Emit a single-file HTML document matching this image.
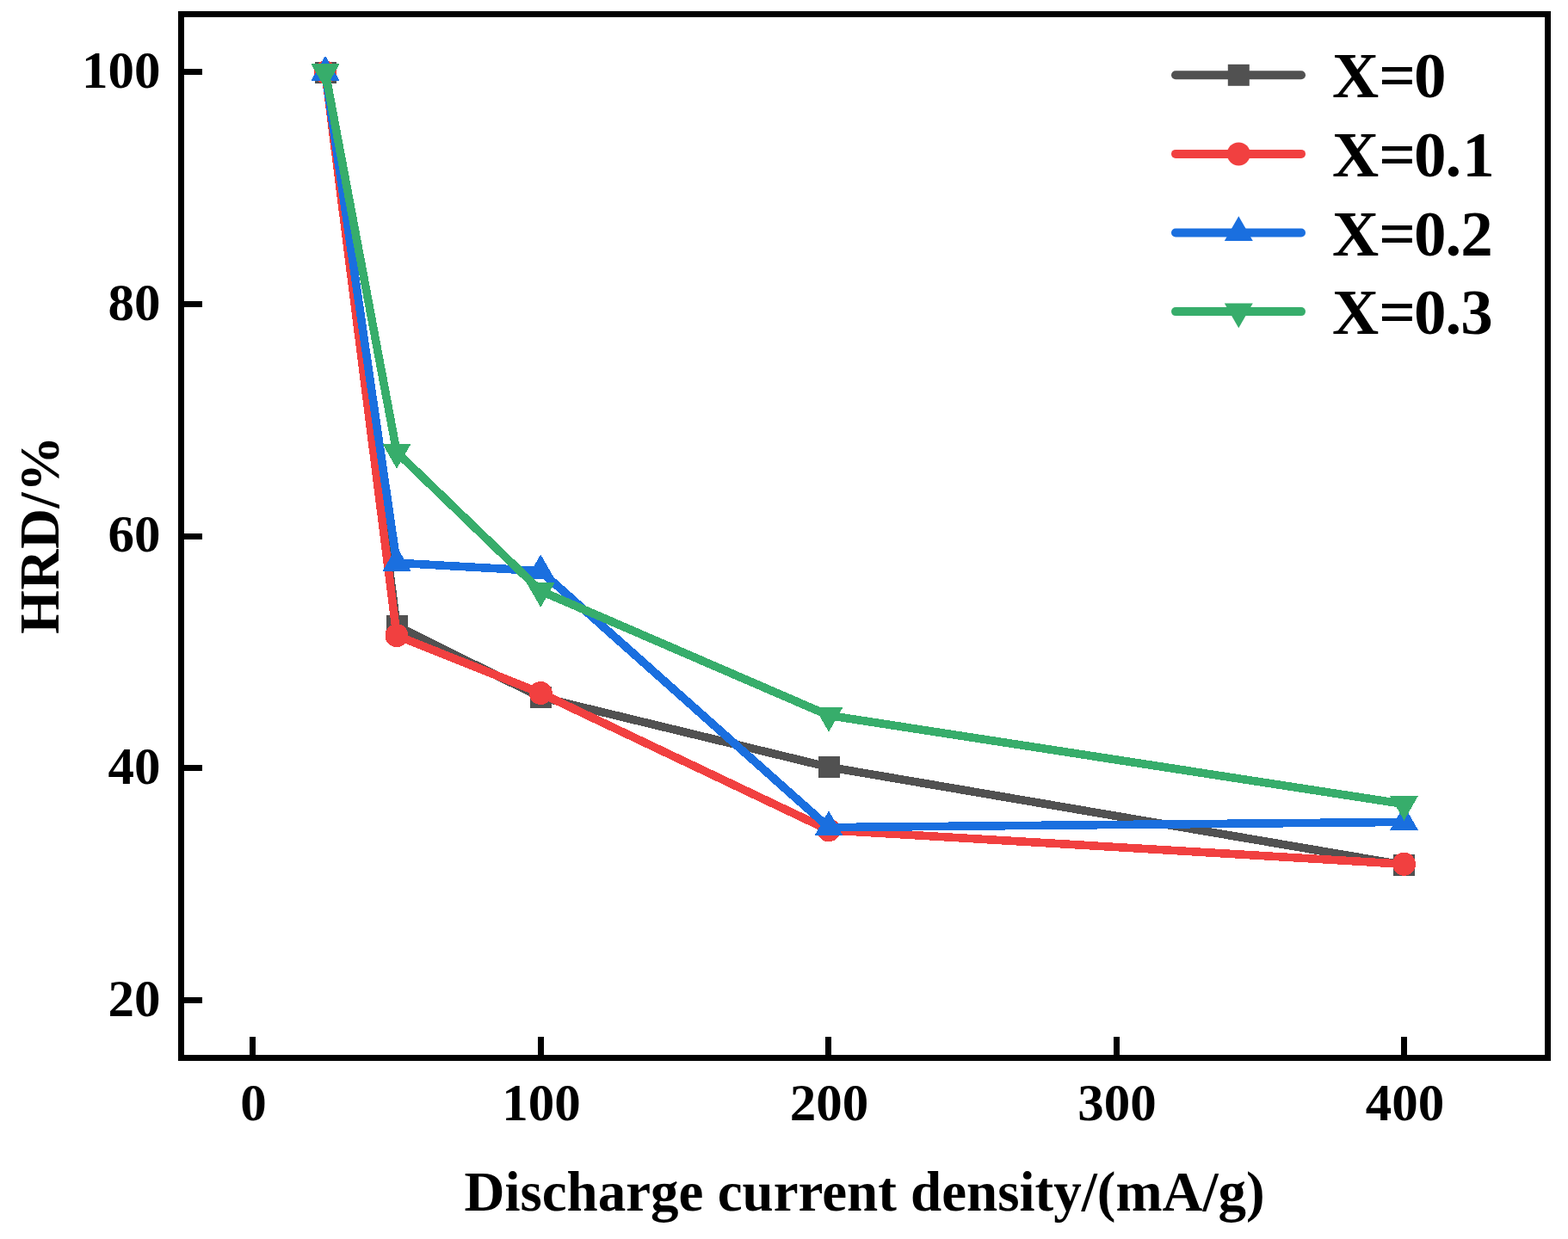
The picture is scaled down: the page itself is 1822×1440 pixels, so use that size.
<!DOCTYPE html>
<html><head><meta charset="utf-8"><title>HRD chart</title>
<style>
html,body{margin:0;padding:0;background:#fff;}
body{width:1822px;height:1440px;overflow:hidden;}
svg{display:block;}
.g{shape-rendering:crispEdges;}
text{font-family:"Liberation Serif","Times New Roman",serif;font-weight:bold;fill:#000;}
</style></head><body>
<svg width="1822" height="1440" viewBox="0 0 1822 1440">
<rect x="0" y="0" width="1822" height="1440" fill="#fff"/>
<g class="g">
<polyline points="378.00,84.50 461.00,727.60 628.20,810.30 963.00,891.50 1631.50,1005.40" fill="none" stroke="#515151" stroke-width="9.6" stroke-linejoin="miter" stroke-miterlimit="4"/>
<rect x="365.50" y="72.00" width="25" height="25" fill="#515151"/>
<rect x="448.50" y="715.10" width="25" height="25" fill="#515151"/>
<rect x="615.70" y="797.80" width="25" height="25" fill="#515151"/>
<rect x="950.50" y="879.00" width="25" height="25" fill="#515151"/>
<rect x="1619.00" y="992.90" width="25" height="25" fill="#515151"/>
<polyline points="378.00,84.00 461.00,738.70 628.20,805.50 963.00,964.80 1631.50,1004.30" fill="none" stroke="#F14040" stroke-width="9.6" stroke-linejoin="miter" stroke-miterlimit="4"/>
<circle cx="378.00" cy="84.00" r="13.5" fill="#F14040"/>
<circle cx="461.00" cy="738.70" r="13.5" fill="#F14040"/>
<circle cx="628.20" cy="805.50" r="13.5" fill="#F14040"/>
<circle cx="963.00" cy="964.80" r="13.5" fill="#F14040"/>
<circle cx="1631.50" cy="1004.30" r="13.5" fill="#F14040"/>
<polyline points="378.00,84.00 461.00,654.20 628.20,663.60 963.00,961.60 1631.50,955.40" fill="none" stroke="#1A6FDF" stroke-width="9.6" stroke-linejoin="miter" stroke-miterlimit="4"/>
<polygon points="378.00,64.80 394.50,93.60 361.50,93.60" fill="#1A6FDF"/>
<polygon points="461.00,635.00 477.50,663.80 444.50,663.80" fill="#1A6FDF"/>
<polygon points="628.20,644.40 644.70,673.20 611.70,673.20" fill="#1A6FDF"/>
<polygon points="963.00,942.40 979.50,971.20 946.50,971.20" fill="#1A6FDF"/>
<polygon points="1631.50,936.20 1648.00,965.00 1615.00,965.00" fill="#1A6FDF"/>
<polyline points="378.00,84.00 461.00,525.60 628.20,686.70 963.00,831.50 1631.50,934.50" fill="none" stroke="#37AD6B" stroke-width="9.6" stroke-linejoin="miter" stroke-miterlimit="4"/>
<polygon points="378.00,103.20 394.50,74.40 361.50,74.40" fill="#37AD6B"/>
<polygon points="461.00,544.80 477.50,516.00 444.50,516.00" fill="#37AD6B"/>
<polygon points="628.20,705.90 644.70,677.10 611.70,677.10" fill="#37AD6B"/>
<polygon points="963.00,850.70 979.50,821.90 946.50,821.90" fill="#37AD6B"/>
<polygon points="1631.50,953.70 1648.00,924.90 1615.00,924.90" fill="#37AD6B"/>
<rect x="210.5" y="16.5" width="1588" height="1213" fill="none" stroke="#000" stroke-width="7"/>
<rect x="213" y="1159.00" width="22" height="7" fill="#000"/>
<rect x="213" y="889.25" width="22" height="7" fill="#000"/>
<rect x="213" y="619.50" width="22" height="7" fill="#000"/>
<rect x="213" y="349.75" width="22" height="7" fill="#000"/>
<rect x="213" y="80.00" width="22" height="7" fill="#000"/>
<rect x="290.00" y="1205" width="7" height="21" fill="#000"/>
<rect x="624.50" y="1205" width="7" height="21" fill="#000"/>
<rect x="959.00" y="1205" width="7" height="21" fill="#000"/>
<rect x="1293.50" y="1205" width="7" height="21" fill="#000"/>
<rect x="1628.00" y="1205" width="7" height="21" fill="#000"/>
</g>
<text x="186.5" y="1180.90" font-size="61" text-anchor="end">20</text>
<text x="186.5" y="911.15" font-size="61" text-anchor="end">40</text>
<text x="186.5" y="641.40" font-size="61" text-anchor="end">60</text>
<text x="186.5" y="371.65" font-size="61" text-anchor="end">80</text>
<text x="186.5" y="101.90" font-size="61" text-anchor="end">100</text>
<text x="294.50" y="1302.4" font-size="61" text-anchor="middle">0</text>
<text x="629.00" y="1302.4" font-size="61" text-anchor="middle">100</text>
<text x="963.50" y="1302.4" font-size="61" text-anchor="middle">200</text>
<text x="1298.00" y="1302.4" font-size="61" text-anchor="middle">300</text>
<text x="1632.50" y="1302.4" font-size="61" text-anchor="middle">400</text>
<text x="1004.6" y="1407" font-size="65" text-anchor="middle">Discharge current density/(mA/g)</text>
<text transform="translate(68,621.5) rotate(-90)" x="0" y="0" font-size="65" letter-spacing="0.6" text-anchor="middle">HRD/%</text>
<line x1="1366" y1="87.30" x2="1512" y2="87.30" stroke="#515151" stroke-width="10" stroke-linecap="round"/>
<rect x="1426.80" y="74.80" width="25" height="25" fill="#515151"/>
<text x="1548" y="113.30" dx="0 0 -2" font-size="75">X=0</text>
<line x1="1366" y1="178.90" x2="1512" y2="178.90" stroke="#F14040" stroke-width="10" stroke-linecap="round"/>
<circle cx="1439.30" cy="178.90" r="13.5" fill="#F14040"/>
<text x="1548" y="204.90" dx="0 0 -2 -1 1" font-size="75">X=0.1</text>
<line x1="1366" y1="270.50" x2="1512" y2="270.50" stroke="#1A6FDF" stroke-width="10" stroke-linecap="round"/>
<polygon points="1439.30,251.30 1455.80,280.10 1422.80,280.10" fill="#1A6FDF"/>
<text x="1548" y="296.50" dx="0 0 -2 -1 -1" font-size="75">X=0.2</text>
<line x1="1366" y1="362.10" x2="1512" y2="362.10" stroke="#37AD6B" stroke-width="10" stroke-linecap="round"/>
<polygon points="1439.30,381.30 1455.80,352.50 1422.80,352.50" fill="#37AD6B"/>
<text x="1548" y="388.10" dx="0 0 -2 -1 -1" font-size="75">X=0.3</text>
</svg></body></html>
